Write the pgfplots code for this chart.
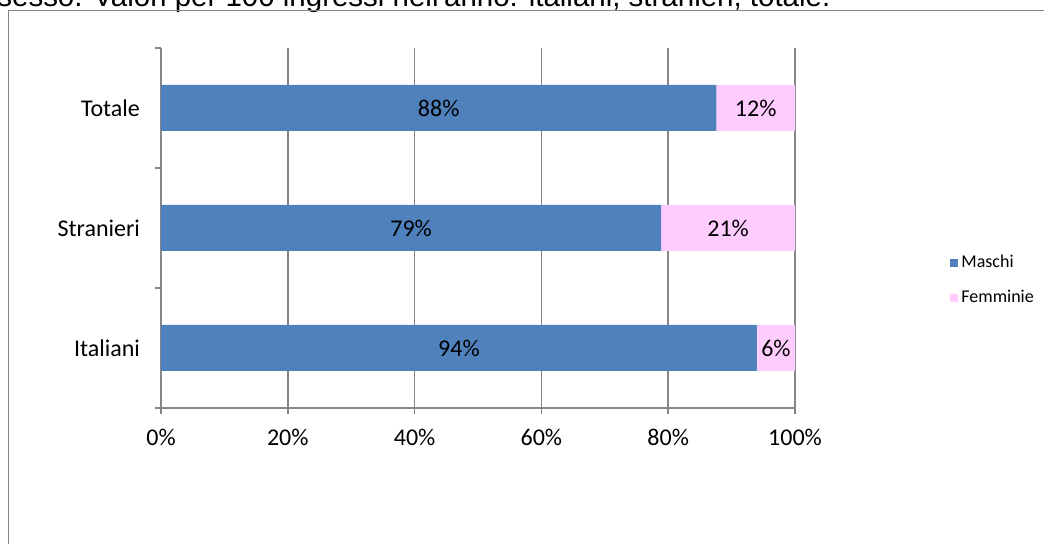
\documentclass[border=0pt]{standalone}
\usepackage{fontspec}
\setmainfont{Carlito}
\newfontfamily\arial{Liberation Sans}
\usepackage{pgfplots}
\pgfplotsset{compat=1.18}
\usepackage{pgfplotstable}
\definecolor{maschi}{HTML}{4F81BD}
\definecolor{femm}{HTML}{FFCCFF}
\definecolor{gridc}{HTML}{868686}

\pgfplotstableread{
y m f ml fl
0 94.0 6.0 94 6
1 78.9 21.1 79 21
2 87.6 12.4 88 12
}\bars

\begin{document}
\begin{tikzpicture}
\useasboundingbox (0,0) rectangle (522pt,272pt);
\clip (0,0) rectangle (522pt,272pt);
\node[anchor=base west, inner sep=0pt] at (-1.5pt,268.5pt) {\resizebox{416.5pt}{!}{\arial\fontsize{14}{16}\selectfont sesso. Valori per 100 ingressi nell'anno: italiani, stranieri, totale.}};
\draw[gridc, line width=0.5pt] (4.25pt,-5pt) |- (530pt,266.75pt);
\begin{axis}[at={(80.5pt,68pt)}, anchor=south west, scale only axis,
  width=317pt, height=180pt,
  xmin=0, xmax=100, ymin=-0.5, ymax=2.5,
  xbar stacked, bar width=23pt,
  axis lines=left, axis line style={gridc, line width=0.75pt, -},
  tick align=outside, major tick length=3pt,
  tick style={gridc, line width=0.75pt},
  xtick={0,20,40,60,80,100},
  xticklabels={0\%,20\%,40\%,60\%,80\%,100\%},
  ytick={-0.5,0.5,1.5,2.5}, yticklabels={},
  extra y ticks={0,1,2}, extra y tick labels={Italiani,Stranieri,Totale},
  extra y tick style={major tick length=0pt, yticklabel style={xshift=-7pt}},
  xmajorgrids, grid style={gridc, line width=0.75pt},
  ticklabel style={font=\fontsize{12}{14}\selectfont},
  xticklabel style={yshift=-4pt},
  nodes near coords={\pgfplotspointmeta\%}, point meta=explicit symbolic,
  every node near coord/.style={anchor=center, font=\fontsize{12}{14}\selectfont, text=black},
  legend style={draw=none, fill=none, at={(1.2445,0.435)}, anchor=north west,
    inner sep=0pt, font=\fontsize{9}{10}\selectfont, row sep=7pt,
    nodes={inner sep=1.5pt}},
  legend cell align=left,
  legend image code/.code={\fill[#1, draw=none] (-2.5pt,-2pt) rectangle (1.5pt,2pt);},
]
\addplot[fill=maschi, draw=none] table[x=m, y=y, meta=ml]{\bars};
\addplot[fill=femm, draw=none] table[x=f, y=y, meta=fl]{\bars};
\legend{Maschi, Femminie}
\end{axis}
\end{tikzpicture}
\end{document}
